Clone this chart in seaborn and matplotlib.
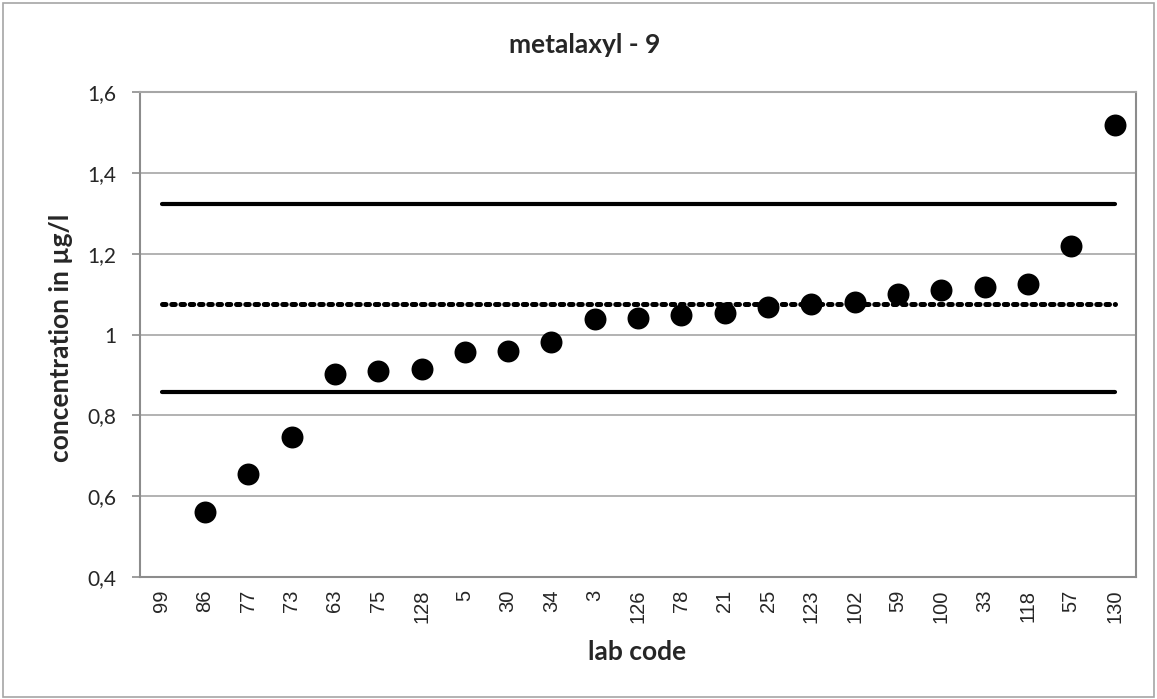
import seaborn as sns
import matplotlib.pyplot as plt
import matplotlib.ticker as mticker
from matplotlib.patches import Rectangle
import numpy as np
import pandas as pd

# Datos
labs = ["99", "86", "77", "73", "63", "75", "128", "5", "30", "34", "3", "126",
        "78", "21", "25", "123", "102", "59", "100", "33", "118", "57", "130"]
conc = [np.nan, 0.560, 0.654, 0.747, 0.903, 0.911, 0.914, 0.958, 0.960, 0.983,
        1.039, 1.040, 1.049, 1.053, 1.069, 1.076, 1.080, 1.100, 1.110, 1.119,
        1.125, 1.219, 1.520]
assigned = 1.077
lower_lim = 0.858
upper_lim = 1.323
yticks = [0.4, 0.6, 0.8, 1.0, 1.2, 1.4, 1.6]

df = pd.DataFrame({"lab": labs, "conc": conc})

sns.set_style("white")
plt.rcParams["font.family"] = ["Lato", "DejaVu Sans"]

fig = plt.figure(figsize=(11.57, 6.99), dpi=100)
ax = fig.add_axes([0.121, 0.1745, 0.861, 0.6935])

grey = "#8c8c8c"
for v in yticks:
    ax.axhline(v, color="#a6a6a6", lw=1.2, zorder=0)

# lineas de referencia (limites y valor asignado)
pos = np.arange(len(labs))
ax.plot(pos, [upper_lim] * len(labs), color="black", lw=3, solid_capstyle="round", zorder=2)
ax.plot(pos, [lower_lim] * len(labs), color="black", lw=3, solid_capstyle="round", zorder=2)
ax.plot(pos, [assigned] * len(labs), color="black", lw=3.6,
        linestyle=(0, (0.7, 1.15)), dash_capstyle="round", zorder=2)

sns.stripplot(x="lab", y="conc", data=df, order=labs, jitter=False,
              color="black", size=15.8, linewidth=0, ax=ax, zorder=3)

ax.set_xlim(-0.5, len(labs) - 0.5)
ax.set_ylim(0.4, 1.6)
ax.set_yticks(yticks)
ax.yaxis.set_major_formatter(mticker.FuncFormatter(lambda v, p: f"{v:g}".replace(".", ",")))
ax.set_xticks(pos)
ax.set_xticklabels(labs, rotation=90, family=["Liberation Sans", "DejaVu Sans"], fontsize=14.5)
ax.set_xticks(np.arange(len(labs) + 1) - 0.5, minor=True)
ax.tick_params(axis="x", which="major", length=0, pad=9)
ax.tick_params(axis="x", which="minor", length=4.5, color=grey, width=1.2, direction="out")
ax.tick_params(axis="y", length=6, color=grey, width=1.2, direction="out", labelsize=15, pad=11)
ax.tick_params(bottom=True, left=True)

for s in ax.spines.values():
    s.set_color(grey)
    s.set_linewidth(1.5)
ax.spines["top"].set_color("#a6a6a6")

ax.set_xlabel("")
ax.set_ylabel("")
fig.text(585 / 1157, 1 - 45 / 699, "metalaxyl - 9", fontsize=19, fontweight="bold",
         ha="center", va="center")
fig.text(637 / 1157, 1 - 652 / 699, "lab code", fontsize=19, fontweight="bold",
         ha="center", va="center")
fig.text(61 / 1157, 1 - 338 / 699, "concentration in µg/l", fontsize=19, fontweight="bold",
         ha="center", va="center", rotation=90)

fig.patches.append(Rectangle((0.003, 0.003), 0.994, 0.993, transform=fig.transFigure,
                             fill=False, edgecolor="#a6a6a6", lw=1.2))

fig.savefig("out.png", dpi=100)
